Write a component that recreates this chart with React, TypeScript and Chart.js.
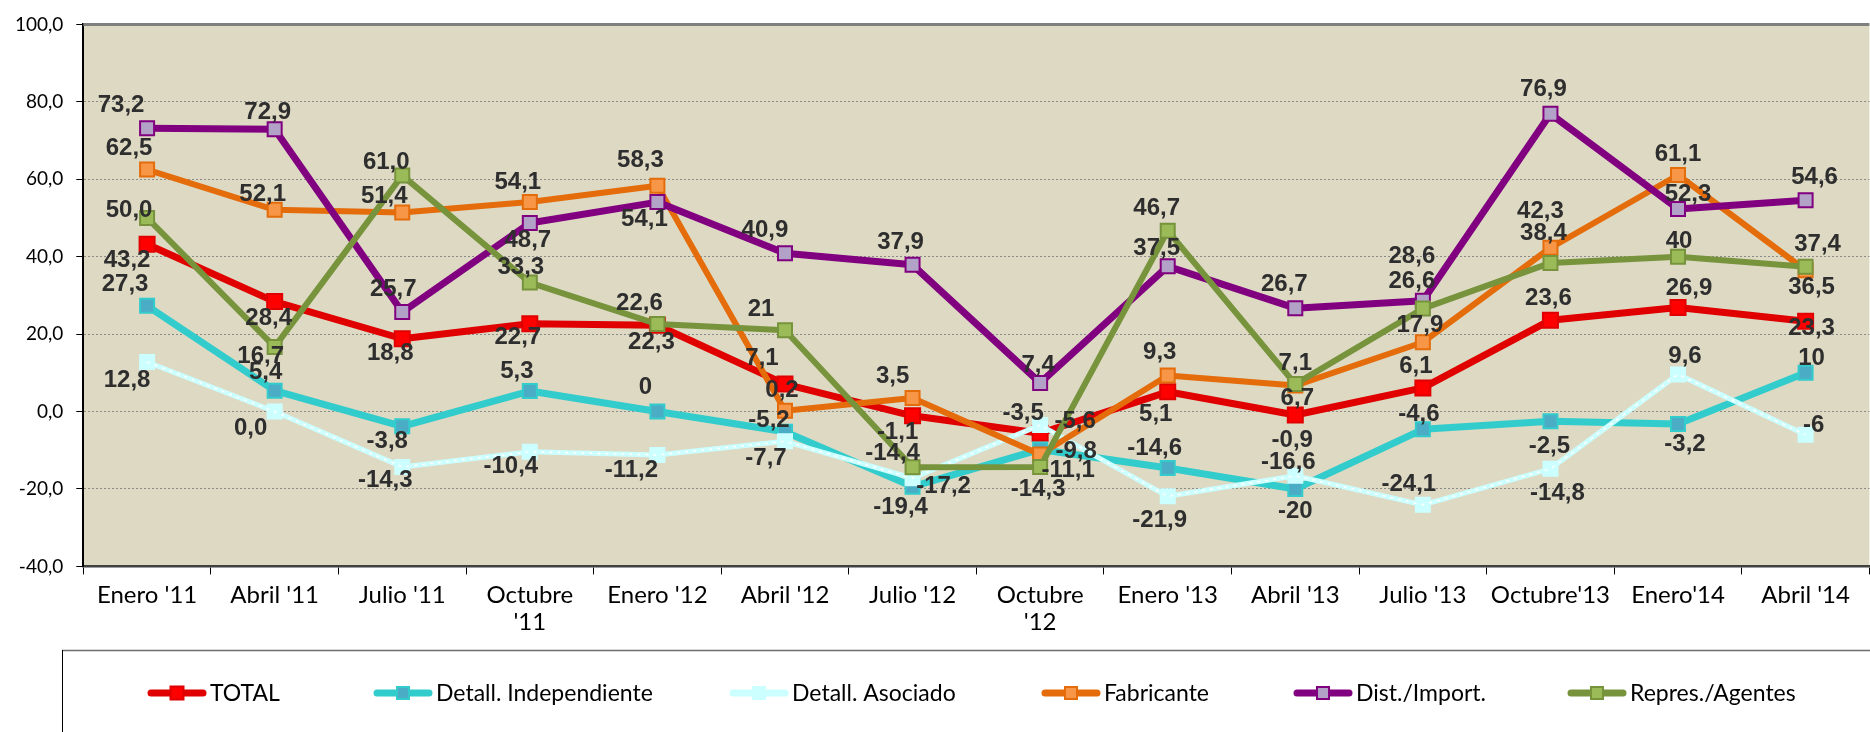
import React, { useEffect, useRef } from 'react';
import { Chart, registerables } from 'chart.js';

Chart.register(...registerables);

// ---------- data ----------
const categories: (string | string[])[] = [
  "Enero '11", "Abril '11", "Julio '11", ["Octubre", "'11"], "Enero '12", "Abril '12", "Julio '12",
  ["Octubre", "'12"], "Enero '13", "Abril '13", "Julio '13", "Octubre'13", "Enero'14", "Abril '14",
];

const seriesNames = ['TOTAL', 'Detall. Independiente', 'Detall. Asociado', 'Fabricante', 'Dist./Import.', 'Repres./Agentes'];

const totalValues = [43.2, 28.4, 18.8, 22.7, 22.3, 7.1, -1.1, -5.6, 5.1, -0.9, 6.1, 23.6, 26.9, 23.3];
const detallIndependienteValues = [27.3, 5.4, -3.8, 5.3, 0, -5.2, -19.4, -9.8, -14.6, -20, -4.6, -2.5, -3.2, 10];
const detallAsociadoValues = [12.8, 0.0, -14.3, -10.4, -11.2, -7.7, -17.2, -3.5, -21.9, -16.6, -24.1, -14.8, 9.6, -6];
const fabricanteValues = [62.5, 52.1, 51.4, 54.1, 58.3, 0.2, 3.5, -11.1, 9.3, 6.7, 17.9, 42.3, 61.1, 36.5];
const distImportValues = [73.2, 72.9, 25.7, 48.7, 54.1, 40.9, 37.9, 7.4, 37.5, 26.7, 28.6, 76.9, 52.3, 54.6];
const represAgentesValues = [50.0, 16.7, 61.0, 33.3, 22.6, 21, -14.4, -14.3, 46.7, 7.1, 26.6, 38.4, 40, 37.4];

const yMin = -40;
const yMax = 100;
const yStep = 20;

// points whose data label is shown without a decimal ("general" number format)
const plainFormatPoints = ['1:4', '1:9', '1:13', '2:13', '5:5', '5:12'];

const allValues = [totalValues, detallIndependienteValues, detallAsociadoValues, fabricanteValues, distImportValues, represAgentesValues];

// ---------- styles / layout ----------
const seriesStyles = [
  { line: '#E00000', fill: '#FF0000', border: '#E00000', width: 7, side: 15 },
  { line: '#33CCCC', fill: '#4BACC6', border: '#33CCCC', width: 7, side: 14 },
  { line: '#CCFFFF', fill: '#CCFFFF', border: '#CCFFFF', width: 5, side: 14 },
  { line: '#E46C0A', fill: '#F79646', border: '#E46C0A', width: 6, side: 14 },
  { line: '#800080', fill: '#B3A2C7', border: '#800080', width: 7, side: 14 },
  { line: '#77933C', fill: '#9BBB59', border: '#77933C', width: 6, side: 14 },
];

// label offsets (dx, dy) relative to each marker, in pixels
const labelOffsets: number[][][] = [
  [[-20, 16], [-6, 17], [-12, 15], [-12, 14], [-6, 17], [-23, -26], [-15, 17], [35, -12], [-12, 23], [-3, 25], [-7, -22], [-2, -22], [11, -19], [6, 7]],
  [[-22, -21], [-9, -18], [-15, 15], [-13, -20], [-12, -24], [-16, -11], [-12, 21], [36, 2], [-13, -20], [0, 22], [-4, -15], [-1, 25], [7, 20], [6, -14]],
  [[-20, 18], [-24, 17], [-17, 13], [-19, 15], [-26, 15], [-19, 17], [31, 8], [-17, -12], [-8, 24], [-7, -13], [-14, -20], [7, 25], [7, -18], [8, -9]],
  [[-18, -21], [-12, -15], [-18, -16], [-12, -20], [-17, -25], [-3, -20], [-20, -22], [28, 16], [-8, -23], [2, 13], [-3, -17], [-10, -36], [0, -21], [6, 17]],
  [[-26, -23], [-7, -17], [-9, -23], [-2, 17], [-13, 17], [-20, -23], [-12, -22], [-2, -18], [-11, -18], [-11, -24], [-11, -44], [-7, -24], [10, -15], [9, -23]],
  [[-18, -8], [-14, 9], [-16, -13], [-9, -15], [-18, -21], [-24, -21], [-20, -14], [-2, 22], [-11, -22], [0, -21], [-11, -27], [-7, -30], [1, -15], [12, -22]],
];

const legendSwatchX = [148, 374, 730, 1042, 1294, 1568];

const CANVAS_W = 1882;
const CANVAS_H = 732;
const AXIS_FONT = 'Lato, "Open Sans", sans-serif';
const LABEL_FONT = '"Liberation Sans", Arial, sans-serif';

const fmtComma = (v: number, plain: boolean) => (plain ? String(v) : v.toFixed(1)).replace('.', ',');

function drawMarker(ctx: CanvasRenderingContext2D, x: number, y: number, st: typeof seriesStyles[number]) {
  const h = st.side / 2;
  ctx.fillStyle = st.fill;
  ctx.strokeStyle = st.border;
  ctx.lineWidth = 2;
  ctx.beginPath();
  ctx.rect(x - h + 1, y - h + 1, st.side - 2, st.side - 2);
  ctx.fill();
  ctx.stroke();
}

const chartPlugin = {
  id: 'customDecor',
  beforeDraw(chart: any) {
    const { ctx, chartArea: a } = chart;
    ctx.save();
    ctx.fillStyle = '#FFFFFF';
    ctx.fillRect(0, 0, chart.width, chart.height);
    ctx.fillStyle = '#DDD9C3';
    ctx.fillRect(a.left, a.top, a.right - a.left, a.bottom - a.top);
    ctx.restore();
  },
  beforeDatasetsDraw(chart: any) {
    const { ctx, chartArea: a } = chart;
    ctx.save();
    ctx.strokeStyle = '#7F7F7F';
    ctx.lineWidth = 3;
    ctx.beginPath();
    ctx.moveTo(a.left, a.top);
    ctx.lineTo(a.right, a.top);
    ctx.stroke();
    ctx.restore();
  },
  afterDatasetDraw(chart: any, args: any) {
    if (args.index !== 2) return;
    const { ctx } = chart;
    const pts = args.meta.data;
    ctx.save();
    ctx.strokeStyle = '#FFFFFF';
    ctx.lineWidth = 1.5;
    ctx.setLineDash([3, 5]);
    ctx.beginPath();
    pts.forEach((p: any, i: number) => (i === 0 ? ctx.moveTo(p.x, p.y) : ctx.lineTo(p.x, p.y)));
    ctx.stroke();
    ctx.restore();
  },
  afterDatasetsDraw(chart: any) {
    const { ctx } = chart;
    ctx.save();
    ctx.font = `bold 24px ${LABEL_FONT}`;
    ctx.fillStyle = '#2E2E2E';
    ctx.textAlign = 'center';
    ctx.textBaseline = 'middle';
    chart.data.datasets.forEach((_ds: any, di: number) => {
      const meta = chart.getDatasetMeta(di);
      meta.data.forEach((pt: any, i: number) => {
        const v = allValues[di][i];
        const txt = fmtComma(v, plainFormatPoints.includes(`${di}:${i}`));
        const [dx, dy] = labelOffsets[di][i];
        ctx.fillText(txt, pt.x + dx, pt.y + dy);
      });
    });
    ctx.restore();
  },
  afterDraw(chart: any) {
    const { ctx } = chart;
    ctx.save();
    // legend frame
    ctx.strokeStyle = '#6E6E6E';
    ctx.lineWidth = 1.5;
    ctx.beginPath();
    ctx.moveTo(62, 650.5);
    ctx.lineTo(chart.width, 650.5);
    ctx.stroke();
    ctx.strokeStyle = '#000000';
    ctx.lineWidth = 1;
    ctx.beginPath();
    ctx.moveTo(62.5, 650);
    ctx.lineTo(62.5, chart.height);
    ctx.stroke();
    // legend items
    const cy = 693;
    seriesNames.forEach((name, i) => {
      const st = seriesStyles[i];
      const x0 = legendSwatchX[i];
      ctx.strokeStyle = st.line;
      ctx.lineWidth = 7;
      ctx.lineCap = 'round';
      ctx.beginPath();
      ctx.moveTo(x0 + 3, cy);
      ctx.lineTo(x0 + 55, cy);
      ctx.stroke();
      drawMarker(ctx, x0 + 29, cy, st);
      ctx.fillStyle = '#000000';
      ctx.font = `23px ${AXIS_FONT}`;
      ctx.textAlign = 'left';
      ctx.textBaseline = 'middle';
      ctx.fillText(name, x0 + 62, cy + 1);
    });
    ctx.restore();
  },
};

export default function App() {
  const ref = useRef<HTMLCanvasElement | null>(null);

  useEffect(() => {
    if (!ref.current) return;
    const datasets = seriesNames.map((name, i) => {
      const st = seriesStyles[i];
      const r = st.side / (2 * Math.SQRT1_2);
      return {
        label: name,
        data: allValues[i],
        borderColor: st.line,
        backgroundColor: st.fill,
        borderWidth: st.width,
        pointStyle: 'rect',
        pointRadius: r,
        pointBackgroundColor: st.fill,
        pointBorderColor: st.border,
        pointBorderWidth: 2,
        tension: 0,
        order: 5 - i,
        borderJoinStyle: 'round' as const,
      };
    });

    const chart = new Chart(ref.current, {
      type: 'line',
      data: { labels: categories as any, datasets: datasets as any },
      plugins: [chartPlugin],
      options: {
        animation: false,
        responsive: false,
        devicePixelRatio: 1,
        layout: { padding: { top: 22.5, left: 0, right: 2, bottom: 0 } },
        plugins: { legend: { display: false }, tooltip: { enabled: false } },
        scales: {
          x: {
            type: 'category',
            offset: true,
            grid: { display: true, drawOnChartArea: false, offset: true, tickLength: 8, tickColor: '#000000', tickWidth: 1 },
            border: { display: true, color: '#404040', width: 2.5 },
            ticks: {
              color: '#000000',
              font: { family: AXIS_FONT, size: 24, lineHeight: 1.1 },
              padding: 8,
              maxRotation: 0,
              autoSkip: false,
            },
            afterFit: (scale: any) => { scale.height = CANVAS_H - 566.4; },
          },
          y: {
            min: yMin,
            max: yMax,
            ticks: {
              stepSize: yStep,
              color: '#000000',
              font: { family: AXIS_FONT, size: 19 },
              padding: 13,
              callback: (v: any) => fmtComma(Number(v), false),
            },
            grid: {
              color: (c: any) => (c.tick && (c.tick.value === yMax || c.tick.value === yMin) ? 'rgba(0,0,0,0)' : '#8A8A8A'),
              lineWidth: 1,
              tickLength: 7,
              tickColor: '#000000',
              tickWidth: 1,
            },
            border: { display: true, color: '#000000', width: 2, dash: [2, 2] },
            afterFit: (scale: any) => { scale.width = 83.3; },
          },
        },
      },
    });
    return () => chart.destroy();
  }, []);

  return (
    <div style={{ position: 'fixed', left: 0, top: 0, width: 1870, height: 732, overflow: 'hidden', background: '#fff' }}>
      <canvas ref={ref} width={CANVAS_W} height={CANVAS_H} style={{ display: 'block', width: CANVAS_W, height: CANVAS_H }} />
    </div>
  );
}
